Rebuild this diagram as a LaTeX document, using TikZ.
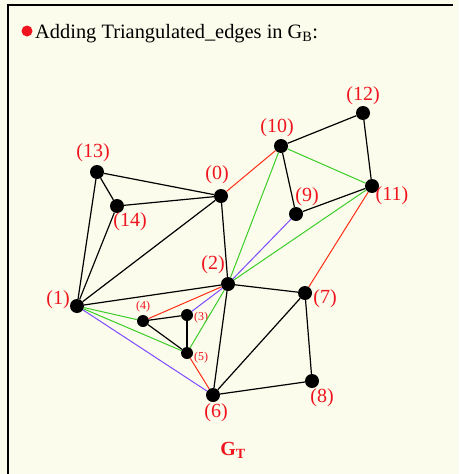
\documentclass[tikz,border=0pt]{standalone}
\usepackage{fontspec}
\setmainfont{Liberation Serif}
\usetikzlibrary{positioning}

\definecolor{paper}{RGB}{251,252,235}
\definecolor{lblred}{RGB}{240,20,30}
\definecolor{trired}{RGB}{255,45,20}
\definecolor{trigreen}{RGB}{60,205,40}
\definecolor{tripurple}{RGB}{125,75,255}

\begin{document}
\begin{tikzpicture}[x=1pt, y=-1pt,
		vtx/.style={circle, fill=black, inner sep=0pt, minimum size=14pt},
		lbl/.style={text=lblred, inner sep=0pt, font=\fontsize{20}{22}\selectfont},
		sml/.style={text=lblred, inner sep=0pt, font=\fontsize{12}{14}\selectfont},
		blk/.style={draw=black, line width=1.2pt},
		red/.style={draw=trired, line width=1pt},
		grn/.style={draw=trigreen, line width=1pt},
		prp/.style={draw=tripurple, line width=1pt}]
				% page and frame
				\fill[paper] (0,0) rectangle (459,474);
				\useasboundingbox (0,0) rectangle (459,474);
				\draw[line width=2pt] (8,474) -- (8,5) -- (453,5);
				
				% title
				\node[circle, fill=lblred, inner sep=0pt, minimum size=11pt] (bullet) at (27,31) {};
				\node[anchor=base west, inner sep=0pt, font=\fontsize{20.4}{22}\selectfont] (title) at (35,38) {Adding Triangulated\_edges in G\textsubscript{B}:};
				
				% vertices
				\node[vtx] (v0) at (221,196) {};
				\node[vtx] (v1) at (77,306) {};
				\node[vtx] (v2) at (228,284) {};
				\node[vtx, minimum size=12pt] (v3) at (187,315) {};
				\node[vtx, minimum size=12pt] (v4) at (143,321) {};
				\node[vtx, minimum size=12pt] (v5) at (187,353) {};
				\node[vtx] (v6) at (213,395) {};
				\node[vtx] (v7) at (305,293) {};
				\node[vtx] (v8) at (312,381) {};
				\node[vtx] (v9) at (296,214) {};
				\node[vtx] (v10) at (281,146) {};
				\node[vtx] (v11) at (372,186) {};
				\node[vtx] (v12) at (363,113) {};
				\node[vtx] (v13) at (97,172) {};
				\node[vtx] (v14) at (117,206) {};
				
				% labels
				\node[lbl] (l0) at (217,175) {(0)};
				\node[lbl] (l1) at (58,300) {(1)};
				\node[lbl] (l2) at (213,265) {(2)};
				\node[sml] (l3) at (201,318) {(3)};
				\node[sml] (l4) at (143,307) {(4)};
				\node[sml] (l5) at (201,358) {(5)};
				\node[lbl] (l6) at (216,413) {(6)};
				\node[lbl] (l7) at (325,299) {(7)};
				\node[lbl] (l8) at (322,398) {(8)};
				\node[lbl] (l9) at (307,197) {(9)};
				\node[lbl] (l10) at (277,128) {(10)};
				\node[lbl] (l11) at (392,196) {(11)};
				\node[lbl] (l12) at (363,96) {(12)};
				\node[lbl] (l13) at (93,153) {(13)};
				\node[lbl] (l14) at (130,222) {(14)};
				
				\node[text=lblred, inner sep=0pt, font=\bfseries\fontsize{20}{22}\selectfont] (gt) at (233,450) {G\textsubscript{T}};
				
				% edges of G_B
				\draw[blk] (v13) -- (v0);
				\draw[blk] (v13) -- (v14);
				\draw[blk] (v13) -- (v1);
				\draw[blk] (v14) -- (v0);
				\draw[blk] (v14) -- (v1);
				\draw[blk] (v0) -- (v1);
				\draw[blk] (v0) -- (v2);
				\draw[blk] (v1) -- (v2);
				\draw[blk] (v4) -- (v3);
				\draw[blk] (v4) -- (v5);
				\draw[blk] (v3) -- (v5);
				\draw[blk] (v2) -- (v6);
				\draw[blk] (v2) -- (v7);
				\draw[blk] (v6) -- (v7);
				\draw[blk] (v6) -- (v8);
				\draw[blk] (v7) -- (v8);
				\draw[blk] (v10) -- (v9);
				\draw[blk] (v10) -- (v12);
				\draw[blk] (v12) -- (v11);
				\draw[blk] (v9) -- (v11);
				
				% triangulated edges
				\draw[red] (v0) -- (v10);
				\draw[red] (v4) -- (v2);
				\draw[red] (v5) -- (v6);
				\draw[red] (v7) -- (v11);
				\draw[grn] (v1) -- (v4);
				\draw[grn] (v1) -- (v5);
				\draw[grn] (v5) -- (v2);
				\draw[grn] (v2) -- (v10);
				\draw[grn] (v2) -- (v11);
				\draw[grn] (v10) -- (v11);
				\draw[prp] (v1) -- (v6);
				\draw[prp] (v3) -- (v2);
				\draw[prp] (v2) -- (v9);
			\end{tikzpicture}
\end{document}
